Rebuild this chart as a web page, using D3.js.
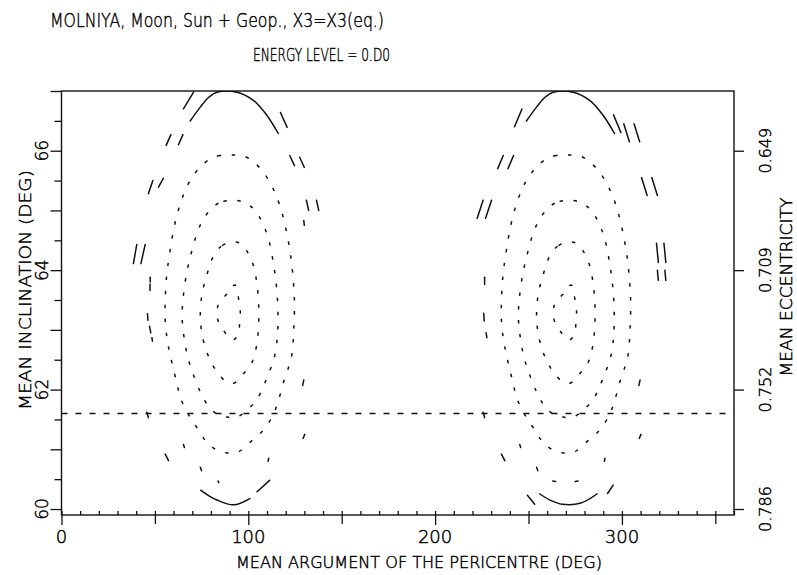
<!DOCTYPE html>
<html>
<head>
<meta charset="utf-8">
<script src="https://cdn.jsdelivr.net/npm/d3@7"></script>
<style>
  body { margin: 0; background: #fff; }
  .plot text { font-family: 'DejaVu Sans', sans-serif; font-weight: 200; fill: #000; stroke: #000; stroke-width: 0.45px; }
</style>
</head>
<body>
<div class="plot" style="width:797px;height:575px"></div>
<script>
// Axis ticks and labels
const xTickMajor = [0, 100, 200, 300]
const xTickMid = [50, 150, 250, 350]
const incTickLabels = [60, 62, 64, 66]
const eccTickIncl = [60, 62, 64, 66]
const eccTickLabels = ['0.786', '0.752', '0.709', '0.649']
const horizontalLevel = 61.6

// Dotted contours (omega deg, inclination deg), west family around 90
const c1West = [[92.9,63.75],[88.6,63.6],[84.1,63.44],[83.5,63.19],[86.8,62.99],[91.3,62.83],[94.3,62.9],[95.4,63.13],[95.7,63.33],[94.8,63.52]]
const c2West = [[91.4,64.47],[85.5,64.4],[80.8,64.2],[77.5,63.88],[75.2,63.6],[74.3,63.2],[75.2,62.94],[77.2,62.68],[80.3,62.45],[84,62.26],[88.5,62.13],[92.5,62.11],[97.5,62.27],[102,62.46],[104.5,62.75],[105.5,63.08],[105.5,63.45],[104.5,63.8],[102.5,64.1],[99,64.33],[95.5,64.45]]
const c3West = [[91,65.17],[84,65.12],[78,64.95],[73.5,64.7],[70,64.35],[67,63.95],[65,63.5],[64.6,63.2],[65.5,62.9],[67.5,62.55],[70,62.3],[74.3,61.96],[78,61.75],[82.3,61.61],[88.6,61.54],[93.9,61.54],[99.3,61.66],[104.3,61.82],[108,62.05],[111,62.28],[113.6,62.5],[115.4,62.83],[115.9,63.24],[115.2,63.69],[113.5,64.1],[111,64.5],[107.5,64.8],[103,65.02],[97.5,65.14]]
const c4West = [[91,65.93],[85,65.92],[80,65.87],[74,65.72],[68.5,65.48],[64,65.15],[60.5,64.75],[58,64.3],[56.3,63.91],[55.5,63.47],[55.5,63.16],[56.3,62.9],[57.3,62.71],[59.1,62.45],[61.8,62.1],[63.5,61.88],[66.2,61.68],[69.8,61.49],[73.4,61.32],[76.9,61.15],[81.4,61.02],[88.6,60.94],[94.8,60.96],[100.2,61.1],[105.5,61.24],[110,61.4],[113.6,61.6],[116,61.8],[118.9,62.13],[121.6,62.38],[123.4,62.6],[124.3,62.99],[124.7,63.44],[124,63.86],[122.5,64.28],[120.2,64.68],[117.2,65.05],[113.5,65.35],[109,65.6],[104,65.78],[98.5,65.9]]

// Dotted contours, east family around 270
const c1East = [[272.9,63.75],[268.6,63.6],[264.1,63.44],[263.5,63.19],[266.8,62.99],[271.3,62.83],[274.3,62.9],[275.4,63.13],[275.7,63.33],[274.8,63.52]]
const c2East = [[271.4,64.47],[265.5,64.4],[260.8,64.2],[257.5,63.88],[255.2,63.6],[254.3,63.2],[255.2,62.94],[257.2,62.68],[260.3,62.45],[264,62.26],[268.5,62.13],[272.5,62.11],[277.5,62.27],[282,62.46],[284.5,62.75],[285.5,63.08],[285.5,63.45],[284.5,63.8],[282.5,64.1],[279,64.33],[275.5,64.45]]
const c3East = [[271,65.17],[264,65.12],[258,64.95],[253.5,64.7],[250,64.35],[247,63.95],[245,63.5],[244.6,63.2],[245.5,62.9],[247.5,62.55],[250,62.3],[254.3,61.96],[258,61.75],[262.3,61.61],[268.6,61.54],[273.9,61.54],[279.3,61.66],[284.3,61.82],[288,62.05],[291,62.28],[293.6,62.5],[295.4,62.83],[295.9,63.24],[295.2,63.69],[293.5,64.1],[291,64.5],[287.5,64.8],[283,65.02],[277.5,65.14]]
const c4East = [[271,65.93],[265,65.92],[260,65.87],[254,65.72],[248.5,65.48],[244,65.15],[240.5,64.75],[238,64.3],[236.3,63.91],[235.5,63.47],[235.5,63.16],[236.3,62.9],[237.3,62.71],[239.1,62.45],[241.8,62.1],[243.5,61.88],[246.2,61.68],[249.8,61.49],[253.4,61.32],[256.9,61.15],[261.4,61.02],[268.6,60.94],[274.8,60.96],[280.2,61.1],[285.5,61.24],[290,61.4],[293.6,61.6],[296,61.8],[298.9,62.13],[301.6,62.38],[303.4,62.6],[304.3,62.99],[304.7,63.44],[304,63.86],[302.5,64.28],[300.2,64.68],[297.2,65.05],[293.5,65.35],[289,65.6],[284,65.78],[278.5,65.9]]

// Solid arcs near the top and bottom edges
const topArcWest = [[68.7,66.49],[74.3,66.73],[79,66.9],[83.2,66.98],[93.9,66.98],[102.9,66.84],[110,66.59],[116.2,66.28]]
const topArcEast = [[248.7,66.49],[254.3,66.73],[259,66.9],[263.2,66.98],[273.9,66.98],[282.9,66.84],[290,66.59],[296.2,66.28]]
const bottomArcWest = [[74.3,60.32],[79,60.22],[83.2,60.15],[92.1,60.07],[101.1,60.18]]
const bottomArcEast = [[255.7,60.26],[261.5,60.15],[268.2,60.08],[278,60.1],[287,60.26]]

// Broken outer contour pieces: [omega1, incl1, omega2, incl2]
const dashesWest = [
  [65.3,66.7,70.7,66.98],[117.2,66.64,120.8,66.39],[56,66.09,58.6,66.27],[62.6,66.1,65,66.27],
  [122.2,65.92,124.7,65.75],[127.5,65.89,130,65.72],[46.5,65.28,48.9,65.5],[51.9,65.39,54.6,65.54],
  [131.1,65.17,132.3,65.0],[136.5,65.17,137.7,65.0],[38.5,64.11,40.3,64.43],[42.5,64.11,44.8,64.43],
  [129.7,64.83,130,64.75],[47.5,63.88,47.5,63.8],[47.4,63.77,47.4,63.66],[46,63.27,46.3,63.16],
  [47.1,63.06,47.8,62.95],[48.4,62.87,48.7,62.81],[129.7,62.16,129.1,62.07],[130.2,61.25,129.3,61.18],
  [110.9,60.85,110.6,60.8],[65.3,61.08,65.8,61.03],[55.5,60.92,57.3,60.81],[74.3,60.7,75,60.64],
  [45.7,61.62,46.5,61.53],[83.8,60.47,84.2,60.44],[104.7,60.29,111.4,60.48]
]
const dashesEast = [
  [242.5,66.4,246.5,66.7],[295.5,66.6,299.5,66.3],[233.5,65.7,236.5,65.92],[239,65.7,242,65.92],
  [301,66.45,304,66.15],[306.5,66.45,309.5,66.15],[222.5,64.87,225.7,65.17],[227,64.87,230.2,65.17],
  [310.5,65.55,313.5,65.25],[316,65.55,319,65.25],[318.5,64.45,319.5,64.13],[322.5,64.45,323.5,64.13],
  [319,64.0,319.5,63.83],[323,64.0,323.5,63.83],[226.5,63.88,226.5,63.76],[226,63.28,226.3,63.15],
  [227.3,62.95,227.7,62.87],[309.7,62.16,309.1,62.07],[310.2,61.25,309.3,61.18],[290.9,60.85,290.6,60.8],
  [245.3,61.08,245.8,61.03],[235.5,60.92,237.3,60.81],[254.3,60.7,255,60.64],[225.7,61.62,226.5,61.53],
  [249.4,60.23,253.3,60.08],[292.3,60.26,295.3,60.4],[263,60.47,264.5,60.46],[275,60.46,276.5,60.47]
]

// Grab the graph wrapper
const $graphWrapper = d3.select('.plot')
$graphWrapper.selectAll('*').remove()

const width = 797
const height = 575

const margin = {
  top: 91,
  right: 63,
  bottom: 60,
  left: 61.5
}

const innerWidth = width - margin.left - margin.right
const innerHeight = height - margin.top - margin.bottom

const root = $graphWrapper
  .append('svg')
  .attr('width', width)
  .attr('height', height)

const svg = root.append('g')
  .attr('transform', `translate(${margin.left},${margin.top})`)

// scales in page coordinates for the labels, inner ones for the marks
const x = d3.scaleLinear().domain([0, 360]).range([0, innerWidth])
const y = d3.scaleLinear().domain([59.9, 67]).range([innerHeight, 0])
const xPage = x.copy().range([margin.left, margin.left + innerWidth])
const yPage = y.copy().range([margin.top + innerHeight, margin.top])

svg.append('clipPath').attr('id', 'clip')
  .append('rect').attr('width', innerWidth).attr('height', innerHeight)

const plot = svg.append('g').attr('clip-path', 'url(#clip)')

// dotted contours
const closedLine = d3.line()
  .x(d => x(d[0]))
  .y(d => y(d[1]))
  .curve(d3.curveCatmullRomClosed)

plot.selectAll('.dotted')
  .data([c1West, c2West, c3West, c4West, c1East, c2East, c3East, c4East])
  .enter()
  .append('path')
  .attr('class', 'dotted')
  .attr('d', closedLine)
  .attr('fill', 'none')
  .attr('stroke', '#111')
  .attr('stroke-width', 1.5)
  .attr('stroke-dasharray', '3.5 10.5')

// solid arcs
const openLine = d3.line()
  .x(d => x(d[0]))
  .y(d => y(d[1]))
  .curve(d3.curveCatmullRom)

plot.selectAll('.arc')
  .data([topArcWest, topArcEast, bottomArcWest, bottomArcEast])
  .enter()
  .append('path')
  .attr('class', 'arc')
  .attr('d', openLine)
  .attr('fill', 'none')
  .attr('stroke', '#111')
  .attr('stroke-width', 1.5)

// broken outer contour pieces
plot.selectAll('.piece')
  .data(dashesWest.concat(dashesEast))
  .enter()
  .append('line')
  .attr('class', 'piece')
  .attr('x1', d => x(d[0]))
  .attr('y1', d => y(d[1]))
  .attr('x2', d => x(d[2]))
  .attr('y2', d => y(d[3]))
  .attr('stroke', '#111')
  .attr('stroke-width', 1.5)
  .attr('stroke-linecap', 'round')

// horizontal dashed level
plot.append('line')
  .attr('x1', x(0))
  .attr('x2', x(360))
  .attr('y1', y(horizontalLevel))
  .attr('y2', y(horizontalLevel))
  .attr('stroke', '#111')
  .attr('stroke-width', 1.4)
  .attr('stroke-dasharray', '6 8')

// bottom axis: minor inward, mid and major outward
svg.append('g')
  .attr('transform', `translate(0, ${innerHeight})`)
  .call(d3.axisBottom(x).ticks(36).tickSize(-4).tickFormat(''))
svg.append('g')
  .attr('transform', `translate(0, ${innerHeight})`)
  .call(d3.axisBottom(x).tickValues(xTickMid).tickSize(9).tickFormat(''))
svg.append('g')
  .attr('transform', `translate(0, ${innerHeight})`)
  .call(d3.axisBottom(x).tickValues(xTickMajor).tickSize(10).tickFormat(''))

// left axis
svg.append('g')
  .call(d3.axisLeft(y).tickValues(d3.range(60.5, 67, 1)).tickSize(7).tickFormat(''))
svg.append('g')
  .call(d3.axisLeft(y).tickValues(d3.range(60, 67.1, 1)).tickSize(11).tickFormat(''))

// right axis
svg.append('g')
  .attr('transform', `translate(${innerWidth}, 0)`)
  .call(d3.axisRight(y).tickValues(eccTickIncl).tickSize(10).tickFormat(''))

svg.selectAll('.domain').remove()
svg.selectAll('.tick text').remove()
svg.selectAll('.tick line').attr('stroke', '#111').attr('stroke-width', 1.3)

// frame
svg.append('rect')
  .attr('width', innerWidth)
  .attr('height', innerHeight)
  .attr('fill', 'none')
  .attr('stroke', '#111')
  .attr('stroke-width', 1.4)

// tick labels
root.selectAll('.xlab')
  .data(xTickMajor)
  .enter()
  .append('text')
  .attr('class', 'xlab')
  .attr('x', d => xPage(d))
  .attr('y', margin.top + innerHeight + 28)
  .attr('text-anchor', 'middle')
  .attr('font-size', 18)
  .text(d => d)

const yLabX = margin.left - 13.5
root.selectAll('.ylab')
  .data(incTickLabels)
  .enter()
  .append('text')
  .attr('class', 'ylab')
  .attr('x', yLabX)
  .attr('y', d => yPage(d))
  .attr('transform', d => `rotate(-90, ${yLabX}, ${yPage(d)})`)
  .attr('text-anchor', 'middle')
  .attr('font-size', 17)
  .text(d => d)

const eLabX = margin.left + innerWidth + 37.5
root.selectAll('.elab')
  .data(eccTickIncl)
  .enter()
  .append('text')
  .attr('class', 'elab')
  .attr('x', eLabX)
  .attr('y', d => yPage(d))
  .attr('transform', d => `rotate(-90, ${eLabX}, ${yPage(d)})`)
  .attr('text-anchor', 'middle')
  .attr('font-size', 16)
  .text((d, i) => eccTickLabels[i])

// titles
root.append('text')
  .attr('x', 50)
  .attr('y', 27)
  .attr('font-size', 20)
  .attr('textLength', 334)
  .attr('lengthAdjust', 'spacingAndGlyphs')
  .text('MOLNIYA, Moon, Sun + Geop., X3=X3(eq.)')

root.append('text')
  .attr('x', 253)
  .attr('y', 61)
  .attr('font-size', 17)
  .attr('textLength', 137)
  .attr('lengthAdjust', 'spacingAndGlyphs')
  .text('ENERGY LEVEL = 0.D0')

root.append('text')
  .attr('x', 236)
  .attr('y', 568)
  .attr('font-size', 16)
  .attr('textLength', 366)
  .attr('lengthAdjust', 'spacingAndGlyphs')
  .text('MEAN ARGUMENT OF THE PERICENTRE (DEG)')

root.append('text')
  .attr('x', 31)
  .attr('y', 290)
  .attr('transform', 'rotate(-90, 31, 290)')
  .attr('text-anchor', 'middle')
  .attr('font-size', 16)
  .attr('textLength', 240)
  .attr('lengthAdjust', 'spacingAndGlyphs')
  .text('MEAN INCLINATION (DEG)')

root.append('text')
  .attr('x', 792)
  .attr('y', 287)
  .attr('transform', 'rotate(-90, 792, 287)')
  .attr('text-anchor', 'middle')
  .attr('font-size', 15)
  .attr('textLength', 179)
  .attr('lengthAdjust', 'spacingAndGlyphs')
  .text('MEAN ECCENTRICITY')
</script>
</body>
</html>
